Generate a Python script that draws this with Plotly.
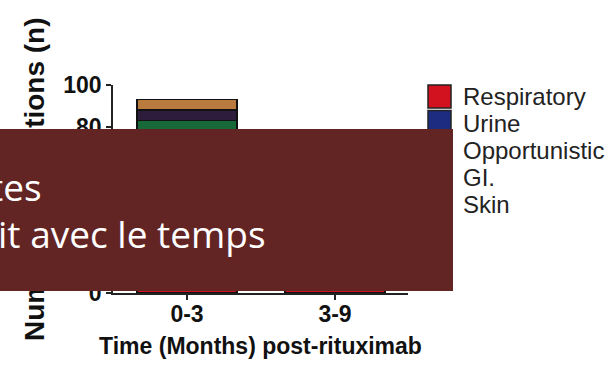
import plotly.graph_objects as go

# ---------------- data ----------------
periods = ["0-3", "3-9"]
infection_types = ["Respiratory", "Urine", "Opportunistic", "GI.", "Skin"]
respiratory = [52, 24]
urine = [22, 6]
opportunistic = [9, 4]
gi = [5, 3]
skin = [5, 3]
series_values = [respiratory, urine, opportunistic, gi, skin]
y_ticks = [0, 20, 40, 60, 80, 100]
x_title = "Time (Months) post-rituximab"
y_title = "Number of infections (n)"
overlay_lines = ["tes", "it avec le temps"]

# ---------------- styles ----------------
colors = ["#d2121e", "#1d2c80", "#17693a", "#2e1c3c", "#b97b3e"]
FONT = "Liberation Sans, Arial, sans-serif"
W, H = 614, 367
L, R, T, B = 113, 206, 85, 74
PW = W - L - R
PH = H - T - B


def px(x):
    return (x - L) / PW


def py(y):
    return (H - B - y) / PH


fig = go.Figure()
for name, vals, col in zip(infection_types, series_values, colors):
    fig.add_trace(go.Bar(
        x=periods, y=vals, name=name, showlegend=False,
        marker=dict(color=col, line=dict(color="#111111", width=1.5)),
    ))

fig.update_layout(
    barmode="stack",
    bargap=0.324,
    width=W, height=H,
    margin=dict(l=L, r=R, t=T, b=B, autoexpand=False),
    plot_bgcolor="white", paper_bgcolor="white",
    xaxis=dict(
        type="category", range=[-0.50, 1.493],
        showline=True, linecolor="#222", linewidth=1.5,
        ticks="outside", ticklen=5, tickwidth=1.5, tickcolor="#222",
        ticklabelstandoff=-5,
        tickfont=dict(family=FONT, size=23, color="#111", weight="bold"),
        showgrid=False, zeroline=False,
        title=dict(text=x_title, font=dict(family=FONT, size=23, color="#111", weight="bold"), standoff=12),
    ),
    yaxis=dict(
        range=[0, 100], tickvals=y_ticks,
        showline=True, linecolor="#222", linewidth=1.5,
        ticks="outside", ticklen=5, tickwidth=1.5, tickcolor="#222",
        tickfont=dict(family=FONT, size=23, color="#111", weight="bold"),
        showgrid=False, zeroline=False,
    ),
)

annotations = []
shapes = []

# y axis title (as annotation so the overlay box covers it)
annotations.append(dict(
    x=px(34), y=py(179), xref="paper", yref="paper",
    xanchor="center", yanchor="middle", textangle=-90,
    text="<b>%s</b>" % y_title, showarrow=False,
    font=dict(family=FONT, size=28, color="#111"),
))

# legend (custom, large swatches)
for i, (name, col) in enumerate(zip(infection_types, colors)):
    cy = 96.5 + 25.5 * i
    shapes.append(dict(
        type="rect", xref="paper", yref="paper",
        x0=px(428), x1=px(451), y0=py(cy - 11.5), y1=py(cy + 11.5),
        fillcolor=col, line=dict(color="#222", width=1.5), layer="above",
    ))
    annotations.append(dict(
        x=px(461), y=py(96 + 27 * i), xref="paper", yref="paper",
        xanchor="left", yanchor="middle", text=name, showarrow=False,
        font=dict(family=FONT, size=24, color="#222"),
    ))

# dark red overlay box
annotations.append(dict(
    x=px(-30), y=py(129), xref="paper", yref="paper",
    xanchor="left", yanchor="top", width=483, height=162,
    text=" ", bgcolor="#632424", borderpad=0, borderwidth=0, showarrow=False,
))
annotations.append(dict(
    x=px(44), y=py(186), xref="paper", yref="paper",
    xanchor="right", yanchor="middle", text=overlay_lines[0], showarrow=False,
    font=dict(family="Open Sans, sans-serif", size=37, color="white"),
))
annotations.append(dict(
    x=px(268), y=py(233), xref="paper", yref="paper",
    xanchor="right", yanchor="middle", text=overlay_lines[1], showarrow=False,
    font=dict(family="Open Sans, sans-serif", size=37, color="white"),
))

fig.update_layout(annotations=annotations, shapes=shapes)
fig.write_html("out.html")
